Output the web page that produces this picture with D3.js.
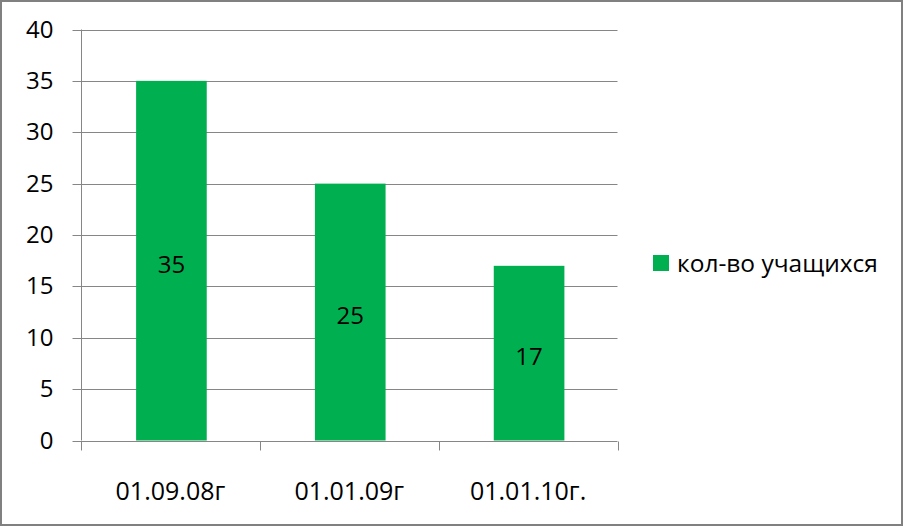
<!DOCTYPE html>
<html><head><meta charset="utf-8">
<script src="https://cdn.jsdelivr.net/npm/d3@7"></script>
<style>html,body{margin:0;padding:0;background:#fff;}svg{display:block;}</style>
</head><body>
<svg id="c" width="903" height="526"></svg>
<script>
const categories = ["01.09.08г", "01.01.09г", "01.01.10г."];
const values = [35, 25, 17];
const seriesName = "кол-во учащихся";
const yTicks = [0, 5, 10, 15, 20, 25, 30, 35, 40];

(function () {
const svg = d3.select("#c");
const W = 903, H = 526;
const font = "'Open Sans', sans-serif";
const pLeft = 81, pRight = 617.5, pTop = 29.5, pBottom = 440.5;
const grid = "#868686";

svg.append("rect").attr("x", 1).attr("y", 1).attr("width", W - 2).attr("height", H - 2)
  .attr("fill", "#fff").attr("stroke", "#808080").attr("stroke-width", 2);

const x = d3.scaleBand().domain(categories).range([pLeft, pRight]).paddingInner(0.605).paddingOuter(0.3025);
const y = d3.scaleLinear().domain([0, 40]).range([pBottom, pTop]);

// gridlines
svg.append("g").selectAll("line").data(yTicks.filter(d => d > 0)).join("line")
  .attr("x1", pLeft).attr("x2", pRight)
  .attr("y1", d => Math.round(y(d)) + 0.5).attr("y2", d => Math.round(y(d)) + 0.5)
  .attr("stroke", grid).attr("stroke-width", 1);

// bars
svg.append("g").selectAll("rect").data(values).join("rect")
  .attr("x", (d, i) => x(categories[i]) + 1)
  .attr("width", x.bandwidth())
  .attr("y", d => y(d))
  .attr("height", d => y(0) - y(d))
  .attr("fill", "#00B050");

// y axis
const yAxis = d3.axisLeft(y).tickValues(yTicks).tickSize(9).tickPadding(10).tickFormat(d3.format("d"));
const gy = svg.append("g").attr("transform", `translate(${pLeft + 0.5},0)`).call(yAxis);
gy.select(".domain").attr("stroke", grid).attr("d", `M0,${y(40)}V${y(0)}`);
gy.selectAll(".tick line").attr("stroke", grid).attr("transform", "translate(0,0.5)");
gy.selectAll(".tick").attr("transform", d => `translate(0,${Math.round(y(d))})`);
gy.selectAll("text").attr("font-family", font).attr("font-size", 24).attr("fill", "#000").attr("x", -28).attr("dy", "0.35em");

// x axis
const xAxis = d3.axisBottom(x).tickSize(0).tickPadding(0);
const gx = svg.append("g").attr("transform", `translate(0,${Math.round(y(0)) + 0.5})`).call(xAxis);
gx.select(".domain").attr("stroke", grid).attr("d", `M${pLeft},0H${pRight}`);
gx.selectAll("text").attr("font-family", font).attr("font-size", 25).attr("fill", "#000").attr("y", 50).attr("dy", "0.35em");
const sepPos = [pLeft, pLeft + x.step(), pLeft + 2 * x.step(), pRight];
gx.selectAll(".sep").data(sepPos).join("line").attr("class", "sep")
  .attr("x1", d => Math.round(d) + 0.5).attr("x2", d => Math.round(d) + 0.5)
  .attr("y1", 0).attr("y2", 9).attr("stroke", grid);

// data labels
svg.append("g").selectAll("text").data(values).join("text")
  .attr("x", (d, i) => x(categories[i]) + 1 + x.bandwidth() / 2)
  .attr("y", d => (y(d) + y(0)) / 2)
  .attr("dy", "0.5em").attr("text-anchor", "middle")
  .attr("font-family", font).attr("font-size", 24).attr("fill", "#000")
  .text(d => d);

// legend
const lg = svg.append("g").attr("transform", "translate(653,255)");
lg.append("rect").attr("width", 16).attr("height", 16).attr("fill", "#00B050");
lg.append("text").attr("x", 24).attr("y", 8).attr("dy", "0.35em")
  .attr("font-family", font).attr("font-size", 24.5).attr("fill", "#000").text(seriesName);
})();
</script>
</body></html>
